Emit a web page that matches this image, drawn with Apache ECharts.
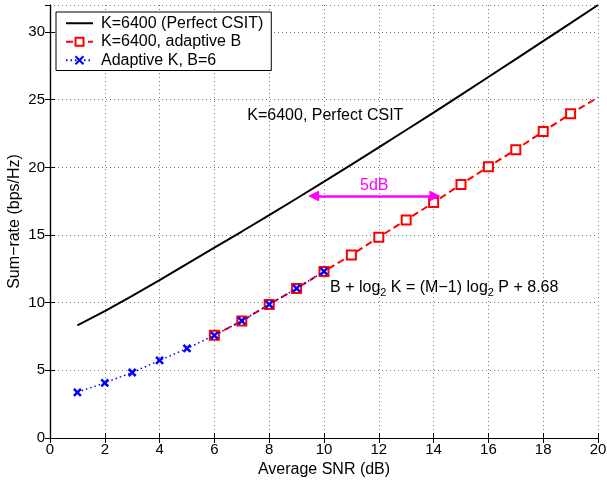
<!DOCTYPE html>
<html>
<head>
<meta charset="utf-8">
<script src="https://cdn.jsdelivr.net/npm/echarts@6/dist/echarts.min.js"></script>
<style>
  html, body { margin: 0; padding: 0; background: #fff; }
  #chart { width: 607px; height: 480px; }
</style>
</head>
<body>
<div id="chart"></div>
<script>
// values
var snrPerfect = [1, 2, 3, 4, 5, 6, 7, 8, 9, 10, 11, 12, 13, 14, 15, 16, 17, 18, 19, 20];
var ratePerfect = [8.33, 9.38, 10.5, 11.66, 12.87, 14.07, 15.26, 16.47, 17.7, 18.94,
                   20.2, 21.48, 22.76, 24.05, 25.36, 26.68, 28.0, 29.33, 30.66, 32.0];

var snrAdaptB = [6, 7, 8, 9, 10, 11, 12, 13, 14, 15, 16, 17, 18, 19, 20];
var rateAdaptB = [7.59, 8.65, 9.87, 11.05, 12.31, 13.53, 14.84, 16.12, 17.40, 18.74,
                  20.05, 21.31, 22.65, 23.96, 25.17];

var snrAdaptK = [1, 2, 3, 4, 5, 6, 7, 8, 9, 10];
var rateAdaptK = [3.38, 4.08, 4.84, 5.73, 6.62, 7.59, 8.65, 9.87, 11.05, 12.31];

var seriesNames = ['K=6400 (Perfect CSIT)', 'K=6400, adaptive B', 'Adaptive K, B=6'];

var xTicks = { min: 0, max: 20, interval: 2 };
var yTicks = { min: 0, max: 32, interval: 5 };

// annotation anchors (data coordinates)
var arrowFrom = [9.62, 17.88];
var arrowTo = [14.05, 17.88];
var labelCsit = [7.2, 23.86];
var labelFormula = [10.22, 11.13];

var font = '"Liberation Sans", Arial, Helvetica, sans-serif';

function pairs(xs, ys) {
    return xs.map(function (x, i) { return [x, ys[i]]; });
}

var redData = pairs(snrAdaptB, rateAdaptB);
// last point has no marker in the figure
redData[redData.length - 1] = { value: redData[redData.length - 1], symbol: 'none' };

var gridLine = { show: true, lineStyle: { color: '#777', width: 1, type: [1, 3] } };
var frameLine = { show: true, lineStyle: { color: '#000', width: 1.2 } };
var insideTick = { show: true, inside: true, length: 5, lineStyle: { color: '#000' } };

var chart = echarts.init(document.getElementById('chart'));
chart.setOption({
    animation: false,
    textStyle: { fontFamily: font },
    grid: { left: 50, right: 9, top: 5, bottom: 42, containLabel: false, outerBoundsMode: 'none' },
    legend: {
        data: [
            { name: seriesNames[0], itemStyle: { opacity: 0 } },
            { name: seriesNames[1] },
            { name: seriesNames[2] }
        ],
        orient: 'vertical',
        left: 56,
        top: 12,
        padding: [3, 8, 2, 9],
        itemWidth: 27,
        itemHeight: 10,
        itemGap: 2,
        backgroundColor: '#fff',
        borderColor: '#000',
        borderWidth: 1,
        textStyle: { fontSize: 16, color: '#000', fontFamily: font, lineHeight: 16.5, padding: [0, 0, 0, 3] }
    },
    xAxis: [{
        type: 'value', position: 'bottom',
        min: xTicks.min, max: xTicks.max, interval: xTicks.interval,
        name: 'Average SNR (dB)', nameLocation: 'middle', nameGap: 22,
        nameTextStyle: { fontSize: 16, color: '#000', fontFamily: font },
        axisLine: frameLine, axisTick: insideTick, splitLine: gridLine,
        axisLabel: { fontSize: 15, color: '#000', margin: 4, fontFamily: font }
    }, {
        type: 'value', position: 'top',
        min: xTicks.min, max: xTicks.max, interval: xTicks.interval,
        axisLine: frameLine, axisTick: insideTick, splitLine: { show: false },
        axisLabel: { show: false }
    }],
    yAxis: [{
        type: 'value', position: 'left',
        min: yTicks.min, max: yTicks.max, interval: yTicks.interval,
        name: 'Sum\u2212rate (bps/Hz)', nameLocation: 'middle', nameGap: 27, nameMoveOverlap: false,
        nameTextStyle: { fontSize: 16, color: '#000', fontFamily: font },
        axisLine: frameLine, axisTick: insideTick, splitLine: gridLine,
        axisLabel: { fontSize: 15, color: '#000', margin: 5, showMaxLabel: false, fontFamily: font }
    }, {
        type: 'value', position: 'right',
        min: yTicks.min, max: yTicks.max, interval: yTicks.interval,
        axisLine: frameLine, axisTick: insideTick, splitLine: { show: false },
        axisLabel: { show: false }
    }],
    series: [{
        name: seriesNames[0],
        type: 'line',
        data: pairs(snrPerfect, ratePerfect),
        symbol: 'none',
        color: '#000',
        lineStyle: { color: '#000', width: 2 },
        z: 3,
        markPoint: {
            silent: true,
            symbol: 'circle',
            symbolSize: 0,
            data: [{
                coord: labelCsit,
                label: {
                    show: true, position: 'right', distance: 0,
                    formatter: 'K=6400, Perfect CSIT',
                    fontSize: 16, color: '#000', fontFamily: font
                }
            }, {
                coord: labelFormula,
                label: {
                    show: true, position: 'right', distance: 0,
                    formatter: 'B + log{sub|2} K = (M\u22121) log{sub|2} P + 8.68',
                    fontSize: 16, color: '#000', fontFamily: font,
                    rich: { sub: { fontSize: 11, color: '#000', fontFamily: font, padding: [12, 0, 0, 0] } }
                }
            }]
        }
    }, {
        name: seriesNames[1],
        type: 'line',
        data: redData,
        symbol: 'rect',
        symbolSize: 9,
        color: '#ff0000',
        itemStyle: { color: '#fff', borderColor: '#ff0000', borderWidth: 2 },
        lineStyle: { color: '#ff0000', width: 2, type: [7, 4] },
        z: 4,
        markLine: {
            silent: true,
            symbol: ['triangle', 'triangle'],
            symbolSize: 11,
            lineStyle: { color: '#ff00ff', width: 2.5, type: 'solid' },
            label: {
                show: true, position: 'middle', formatter: '5dB', distance: 2,
                fontSize: 16, color: '#ff00ff', fontFamily: font
            },
            data: [[{ coord: arrowFrom }, { coord: arrowTo }]]
        }
    }, {
        name: seriesNames[2],
        type: 'line',
        data: pairs(snrAdaptK, rateAdaptK),
        symbol: 'path://M0,0L10,10M10,0L0,10',
        symbolSize: 7,
        color: '#0000ff',
        itemStyle: { color: '#0000ff', borderColor: '#0000ff', borderWidth: 2.5 },
        lineStyle: { color: '#0000ff', width: 1.5, type: [1.5, 3] },
        z: 5
    }]
});
</script>
</body>
</html>
